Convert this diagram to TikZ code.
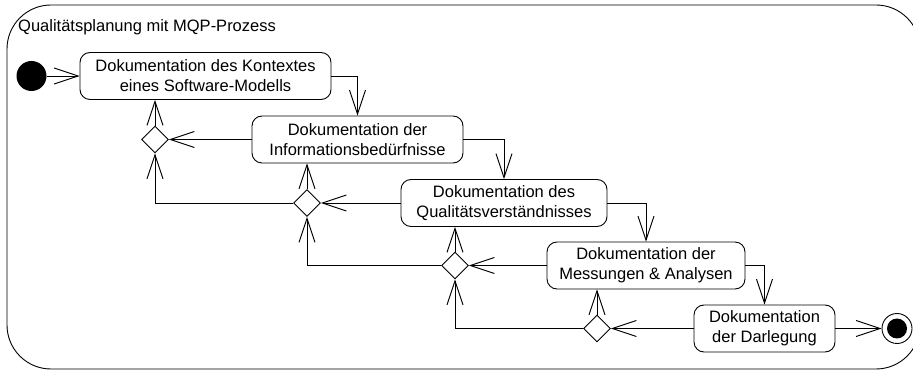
\documentclass[tikz,border=0pt]{standalone}
\usepackage{fontspec}
\setmainfont{Liberation Sans}
\usetikzlibrary{arrows.meta,shapes.geometric}

\begin{document}
\begin{tikzpicture}[x=1pt, y=-1pt,
  act/.style={draw, rounded corners=10pt, align=center, font=\fontsize{16.5}{19.8}\selectfont, inner sep=0pt, minimum height=47pt, line width=0.9pt},
  dec/.style={draw, diamond, aspect=1, minimum size=27pt, inner sep=0pt, fill=white, line width=0.9pt},
  arr/.style={-{Straight Barb[length=24pt,width=16pt]}, line width=0.9pt}]
\useasboundingbox (0,0) rectangle (913,371);
% Rahmen
\draw[rounded corners=44pt, line width=0.9pt] (7,5) rectangle (920,369);
\node[anchor=base west, inner sep=0pt, font=\fontsize{16.5}{19.8}\selectfont] (titel) at (18,32) {Qualitätsplanung mit MQP-Prozess};
% Aktionen
\node[act, minimum width=251pt] (kontext) at (205.5,76) {Dokumentation des Kontextes\\eines Software-Modells};
\node[act, minimum width=211pt] (info) at (357.5,139.5) {Dokumentation der\\Informationsbedürfnisse};
\node[act, minimum width=206pt] (qual) at (504,203) {Dokumentation des\\Qualitätsverständnisses};
\node[act, minimum width=198pt] (mess) at (646,265.5) {Dokumentation der\\Messungen \& Analysen};
\node[act, minimum width=141pt] (darl) at (764.5,328.5) {Dokumentation\\der Darlegung};
% Start und Ende
\node[circle, fill, minimum size=30pt, inner sep=0pt] (start) at (31.5,76) {};
\node[circle, draw, minimum size=30pt, inner sep=0pt, line width=0.9pt] (ende) at (897,328.5) {};
\node[circle, fill, minimum size=20pt, inner sep=0pt] (endpunkt) at (ende) {};
% Entscheidungen
\node[dec] (d1) at (155,139.5) {};
\node[dec] (d2) at (307,203) {};
\node[dec] (d3) at (455,265.5) {};
\node[dec] (d4) at (597,328.5) {};
% Kanten
\draw[arr] (start) -- (kontext);
\draw[arr] (kontext) -| (info);
\draw[arr] (info) -| (qual);
\draw[arr] (qual) -| (mess);
\draw[arr] (mess) -| (darl);
\draw[arr] (darl) -- (ende);
\draw[arr] (info) -- (d1); \draw[arr] (d1.north) -- (d1.north |- kontext.south);
\draw[arr] (qual) -- (d2); \draw[arr] (d2.north) -- (d2.north |- info.south);
\draw[arr] (mess) -- (d3); \draw[arr] (d3.north) -- (d3.north |- qual.south);
\draw[arr] (darl) -- (d4); \draw[arr] (d4.north) -- (d4.north |- mess.south);
\draw[arr] (d2) -| (d1);
\draw[arr] (d3) -| (d2);
\draw[arr] (d4) -| (d3);
\end{tikzpicture}
\end{document}
